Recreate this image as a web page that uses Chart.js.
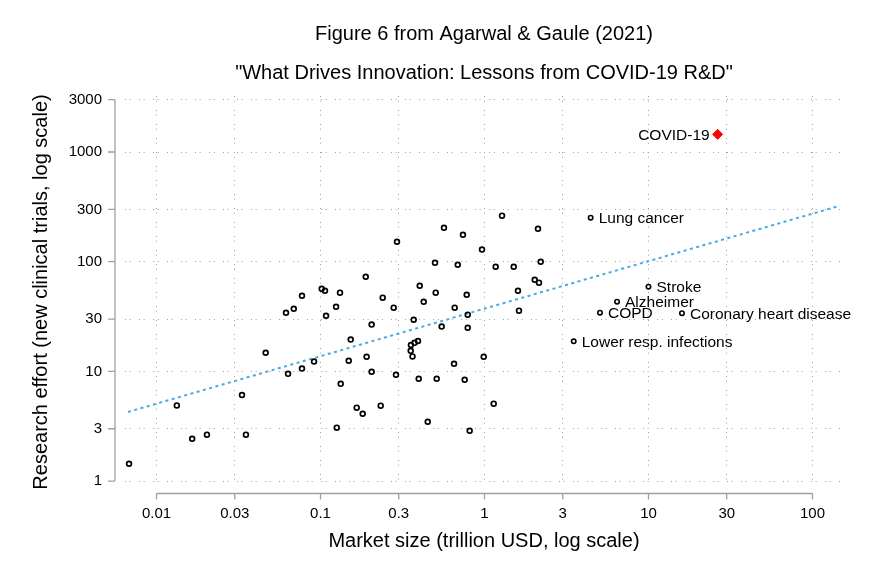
<!DOCTYPE html>
<html>
<head>
<meta charset="utf-8">
<script src="https://cdn.jsdelivr.net/npm/chart.js@4/dist/chart.umd.min.js"></script>
<style>
  html, body { margin: 0; padding: 0; background: #ffffff; }
  #wrap { width: 874px; height: 582px; }
</style>
</head>
<body>
<div id="wrap"><canvas id="c" width="874" height="582"></canvas></div>
<script>
// ---- Data ----
const titleText = "Figure 6 from Agarwal & Gaule (2021)";
const subtitleText = "\"What Drives Innovation: Lessons from COVID-19 R&D\"";
const xAxisTitle = "Market size (trillion USD, log scale)";
const yAxisTitle = "Research effort (new clinical trials, log scale)";

const xTickValues = [0.01, 0.03, 0.1, 0.3, 1, 3, 10, 30, 100];
const xTickLabels = ["0.01", "0.03", "0.1", "0.3", "1", "3", "10", "30", "100"];
const yTickValues = [1, 3, 10, 30, 100, 300, 1000, 3000];
const yTickLabels = ["1", "3", "10", "30", "100", "300", "1000", "3000"];

// Unlabeled diseases: market size (trillion USD) and new clinical trials
const otherMarket = [
  0.0068, 0.0133, 0.0165, 0.0203, 0.0332, 0.0351, 0.0463, 0.0616, 0.0687, 0.0771,
  0.0634, 0.0771, 0.0913, 0.1017, 0.1065, 0.1315, 0.1244, 0.1081, 0.1528, 0.1486,
  0.191, 0.1328, 0.1662, 0.1808, 0.1256, 0.1887, 0.205, 0.205, 0.2328, 0.2395,
  0.2794, 0.2927, 0.2886, 0.370, 0.4027, 0.4259, 0.393, 0.3743, 0.356, 0.3548,
  0.364, 0.397, 0.4506, 0.4991, 0.504, 0.511, 0.548, 0.566, 0.658, 0.652,
  0.687, 0.739, 0.757, 0.779, 0.790, 0.790, 0.812, 0.966, 0.989, 1.138,
  1.170, 1.279, 1.507, 1.600, 1.623, 2.024, 2.149, 2.119, 2.201
];
const otherTrials = [
  1.44, 4.9, 2.43, 2.65, 6.1, 2.65, 14.8, 34.3, 37.3, 49,
  9.5, 10.6, 12.3, 56.7, 54.4, 52.2, 38.9, 32.2, 19.5, 12.5,
  13.6, 7.7, 4.67, 4.11, 3.07, 73, 26.7, 9.94, 4.87, 47,
  38.1, 152, 9.33, 29.6, 60.4, 43.2, 18.9, 18.2, 17.4, 15.4,
  13.7, 8.58, 3.48, 97.9, 52.2, 8.58, 25.6, 204, 38.1, 11.75,
  93.9, 176, 8.4, 50, 32.9, 25.0, 2.88, 129, 13.6, 5.08,
  90, 263, 90, 54.4, 35.8, 68.5, 64.4, 200, 100
];

// Labeled diseases
const namedDiseases = ["Lung cancer", "Stroke", "Alzheimer", "COPD", "Coronary heart disease", "Lower resp. infections"];
const namedMarket = [4.44, 10.0, 6.43, 5.06, 16.0, 3.50];
const namedTrials = [252, 59.2, 43.2, 34.3, 33.9, 18.8];

// COVID-19
const covidName = ["COVID-19"];
const covidMarket = [26.4];
const covidTrials = [1449];

// Fitted line (log-log) endpoints
const fitMarket = [0.0067, 147];
const fitTrials = [4.27, 324];

// ---- Build chart ----
const FONT = "'Liberation Sans', Arial, Helvetica, sans-serif";
const toPts = (xs, ys) => xs.map((x, i) => ({ x: x, y: ys[i] }));

const decorPlugin = {
  id: 'decor',
  beforeDatasetsDraw(chart) {
    const ctx = chart.ctx;
    const xs = chart.scales.x, ys = chart.scales.y;
    const ca = chart.chartArea;
    ctx.save();
    ctx.strokeStyle = '#a0a0a0';
    ctx.lineWidth = 1.3;
    // y axis line with gap
    const ax = ca.left - 10;
    ctx.beginPath();
    ctx.moveTo(ax, ys.getPixelForValue(yTickValues[0]));
    ctx.lineTo(ax, ys.getPixelForValue(yTickValues[yTickValues.length - 1]));
    yTickValues.forEach(v => {
      const p = ys.getPixelForValue(v);
      ctx.moveTo(ax - 7, p); ctx.lineTo(ax, p);
    });
    // x axis line with gap
    const ay = ca.bottom + 5.5;
    ctx.moveTo(xs.getPixelForValue(xTickValues[0]), ay);
    ctx.lineTo(xs.getPixelForValue(xTickValues[xTickValues.length - 1]), ay);
    xTickValues.forEach(v => {
      const p = xs.getPixelForValue(v);
      ctx.moveTo(p, ay); ctx.lineTo(p, ay + 6);
    });
    ctx.stroke();
    ctx.restore();
  },
  afterDraw(chart) {
    const ctx = chart.ctx;
    const xs = chart.scales.x, ys = chart.scales.y;
    const ca = chart.chartArea;
    const cx = (ca.left + ca.right) / 2;
    const cy = (ca.top + ca.bottom) / 2;
    ctx.save();
    ctx.fillStyle = '#000';
    ctx.font = '20px ' + FONT;
    ctx.textAlign = 'center';
    ctx.textBaseline = 'alphabetic';
    ctx.fillText(titleText, cx, 40);
    ctx.fillText(subtitleText, cx, 79);
    ctx.fillText(xAxisTitle, cx, 547);
    ctx.save();
    ctx.translate(46.5, cy);
    ctx.rotate(-Math.PI / 2);
    ctx.fillText(yAxisTitle, 0, 0);
    ctx.restore();
    // point labels
    ctx.font = '15.5px ' + FONT;
    ctx.textBaseline = 'middle';
    ctx.textAlign = 'left';
    namedDiseases.forEach((n, i) => {
      const px = xs.getPixelForValue(namedMarket[i]);
      const py = ys.getPixelForValue(namedTrials[i]);
      ctx.fillText(n, px + 8, py + 1);
    });
    ctx.textAlign = 'right';
    covidName.forEach((n, i) => {
      const px = xs.getPixelForValue(covidMarket[i]);
      const py = ys.getPixelForValue(covidTrials[i]);
      ctx.fillText(n, px - 8, py + 1);
    });
    ctx.restore();
  }
};

const gridDash = [1, 3.67, 1, 8.33];

new Chart(document.getElementById('c'), {
  type: 'scatter',
  data: {
    datasets: [
      {
        label: 'COVID-19',
        data: toPts(covidMarket, covidTrials),
        pointStyle: 'rectRot',
        pointRadius: 5,
        backgroundColor: '#ff0000',
        borderColor: '#ff0000',
        borderWidth: 1,
        order: 0
      },
      {
        label: 'Labeled diseases',
        data: toPts(namedMarket, namedTrials),
        pointStyle: 'circle',
        pointRadius: 2.2,
        backgroundColor: '#ffffff',
        borderColor: '#000000',
        borderWidth: 1.6,
        order: 1
      },
      {
        label: 'Other diseases',
        data: toPts(otherMarket, otherTrials),
        pointStyle: 'circle',
        pointRadius: 2.4,
        backgroundColor: 'rgba(255,255,255,0)',
        borderColor: '#000000',
        borderWidth: 1.7,
        order: 2
      },
      {
        type: 'line',
        label: 'Fit',
        data: toPts(fitMarket, fitTrials),
        borderColor: '#4aa8e2',
        borderWidth: 2,
        borderDash: [3, 3.5],
        pointRadius: 0,
        fill: false,
        order: 10
      }
    ]
  },
  options: {
    responsive: false,
    devicePixelRatio: 1,
    animation: false,
    layout: { padding: { left: 0, right: 31, top: 96, bottom: 0 } },
    plugins: {
      legend: { display: false },
      tooltip: { enabled: false },
      title: { display: false }
    },
    scales: {
      x: {
        type: 'logarithmic',
        position: 'bottom',
        min: 0.006425,
        max: 153.5,
        afterFit: (s) => { s.height = 94; },
        afterBuildTicks: (s) => { s.ticks = xTickValues.map(v => ({ value: v })); },
        ticks: {
          autoSkip: false,
          maxRotation: 0,
          padding: 17,
          color: '#000',
          font: { family: FONT, size: 15 },
          callback: (v) => { const i = xTickValues.indexOf(v); return i >= 0 ? xTickLabels[i] : ''; }
        },
        grid: { display: true, drawTicks: false, color: '#a0a0a0', lineWidth: 1 },
        border: { display: false, dash: gridDash }
      },
      y: {
        type: 'logarithmic',
        position: 'left',
        min: 0.865,
        max: 3240,
        afterFit: (s) => { s.width = 125; },
        afterBuildTicks: (s) => { s.ticks = yTickValues.map(v => ({ value: v })); },
        ticks: {
          autoSkip: false,
          padding: 23,
          color: '#000',
          font: { family: FONT, size: 15 },
          callback: (v) => { const i = yTickValues.indexOf(v); return i >= 0 ? yTickLabels[i] : ''; }
        },
        grid: { display: true, drawTicks: false, color: '#a0a0a0', lineWidth: 1 },
        border: { display: false, dash: gridDash }
      }
    }
  },
  plugins: [decorPlugin]
});
</script>
</body>
</html>
